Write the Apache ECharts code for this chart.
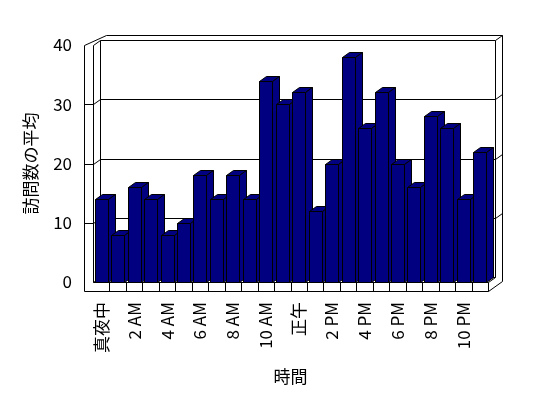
<!DOCTYPE html>
<html>
<head>
<meta charset="utf-8">
<script src="https://cdn.jsdelivr.net/npm/echarts@6/dist/echarts.min.js"></script>
<style>
  html, body { margin: 0; padding: 0; background: #fff; }
  #chart { width: 548px; height: 398px; }
</style>
</head>
<body>
<div id="chart"></div>
<script>
const hours = ['真夜中', '1 AM', '2 AM', '3 AM', '4 AM', '5 AM', '6 AM', '7 AM', '8 AM', '9 AM', '10 AM', '11 AM',
  '正午', '1 PM', '2 PM', '3 PM', '4 PM', '5 PM', '6 PM', '7 PM', '8 PM', '9 PM', '10 PM', '11 PM'];
const visits = [14, 8, 16, 14, 8, 10, 18, 14, 18, 14, 34, 30, 32, 12, 20, 38, 26, 32, 20, 16, 28, 26, 14, 22];
const yTicks = [0, 10, 20, 30, 40];

const font = '"Noto Sans CJK JP", "Noto Sans", sans-serif';
const depth = [7, -5];   // 3d depth offset
const wallT = 9;         // left wall thickness
const floorT = 9;        // floor thickness

// snap to pixel so 1px lines stay crisp
function px(v) { return Math.round(v) + 0.5; }

function line(x1, y1, x2, y2) {
  return {
    type: 'line',
    shape: { x1: px(x1), y1: px(y1), x2: px(x2), y2: px(y2) },
    style: { stroke: '#000', lineWidth: 1 },
    silent: true
  };
}

function poly(points) {
  return {
    type: 'polygon',
    shape: { points: points.map(p => [px(p[0]), px(p[1])]) },
    style: { fill: '#000080', stroke: '#000', lineWidth: 1 }
  };
}

// walls, floor and gridlines, computed from the axes
function renderFrame(params, api) {
  const bw = api.size([1, 0])[0];
  const xL = api.coord([0, 0])[0] - bw / 2;
  const xR = api.coord([hours.length - 1, 0])[0] + bw / 2;
  const y = v => api.coord([0, v])[1];
  const [dx, dy] = depth;
  const y0 = y(0), yTop = y(yTicks[yTicks.length - 1]);
  const els = [];

  // left wall front face
  els.push(line(xL - wallT, yTop, xL - wallT, y0 + floorT));
  els.push(line(xL, yTop, xL, y0));
  // left wall back edge, back wall right edge
  els.push(line(xL + dx, yTop + dy, xL + dx, y0 + dy));
  els.push(line(xR + dx, yTop + dy, xR + dx, y0 + dy));
  // outer right edge
  els.push(line(xR + 2 * dx, yTop + 2 * dy, xR + 2 * dx, y0 + floorT + 2 * dy));
  // top edges
  els.push(line(xL - wallT, yTop, xL + 2 * dx - 1, yTop + 2 * dy));
  els.push(line(xL + 2 * dx - 1, yTop + 2 * dy, xR + 2 * dx, yTop + 2 * dy));
  els.push(line(xL, yTop, xL + dx, yTop + dy));
  els.push(line(xL + dx, yTop + dy, xR + dx, yTop + dy));
  els.push(line(xR + dx, yTop + dy, xR + 2 * dx, yTop + 2 * dy));

  // gridlines
  yTicks.slice(0, -1).forEach(v => {
    const yy = y(v);
    if (v > 0) els.push(line(xL - wallT, yy, xL, yy));
    els.push(line(xL, yy, xL + dx, yy + dy));
    els.push(line(xL + dx, yy + dy, xR + dx, yy + dy));
    if (v > 0) els.push(line(xR + dx, yy + dy, xR + 2 * dx, yy + 2 * dy));
  });

  // floor
  els.push(line(xL, y0, xR, y0));
  els.push(line(xL - wallT, y0 + floorT, xR, y0 + floorT));
  els.push(line(xR, y0, xR, y0 + floorT));
  els.push(line(xR, y0, xR + dx, y0 + dy));
  els.push(line(xR, y0 + floorT, xR + 2 * dx, y0 + floorT + 2 * dy));
  for (let i = 1; i < hours.length; i++) {
    els.push(line(xL + i * bw, y0, xL + i * bw, y0 + floorT));
  }
  return { type: 'group', children: els };
}

function renderBar(params, api) {
  const top = api.coord([api.value(0), api.value(1)]);
  const base = api.coord([api.value(0), 0]);
  const w = api.size([1, 0])[0] * 0.79;
  const [dx, dy] = depth;
  const x1 = top[0] - w / 2, x2 = x1 + w;
  const t = top[1], b = base[1];
  return {
    type: 'group',
    children: [
      poly([[x1, t], [x2, t], [x2, b], [x1, b]]),
      poly([[x1, t], [x1 + dx, t + dy], [x2 + dx, t + dy], [x2, t]]),
      poly([[x2, t], [x2 + dx, t + dy], [x2 + dx, b + dy], [x2, b]])
    ]
  };
}

const chart = echarts.init(document.getElementById('chart'), null, { renderer: 'canvas' });

chart.setOption({
  animation: false,
  backgroundColor: '#fff',
  textStyle: { fontFamily: font },
  grid: { left: 93, right: 60, top: 45, bottom: 116 },
  xAxis: {
    type: 'category',
    data: hours,
    name: '時間',
    nameLocation: 'middle',
    nameGap: 86,
    nameTextStyle: { color: '#000', fontSize: 17, fontFamily: font },
    axisLine: { show: false },
    axisTick: { show: false },
    axisLabel: { interval: 1, rotate: 90, margin: 20, color: '#000', fontSize: 17, fontFamily: font }
  },
  yAxis: {
    type: 'value',
    min: 0,
    max: 40,
    interval: 10,
    name: '訪問数の平均',
    nameLocation: 'middle',
    nameGap: 54,
    nameTextStyle: { color: '#000', fontSize: 17, fontFamily: font },
    axisLine: { show: false },
    axisTick: { show: false },
    splitLine: { show: false },
    axisLabel: { margin: 21, color: '#000', fontSize: 17, fontFamily: font }
  },
  series: [
    {
      type: 'custom',
      renderItem: renderFrame,
      data: [[0, 0]],
      silent: true,
      z: 1
    },
    {
      type: 'custom',
      renderItem: renderBar,
      data: visits.map((v, i) => [i, v]),
      encode: { x: 0, y: 1 },
      z: 2
    }
  ]
});
</script>
</body>
</html>
